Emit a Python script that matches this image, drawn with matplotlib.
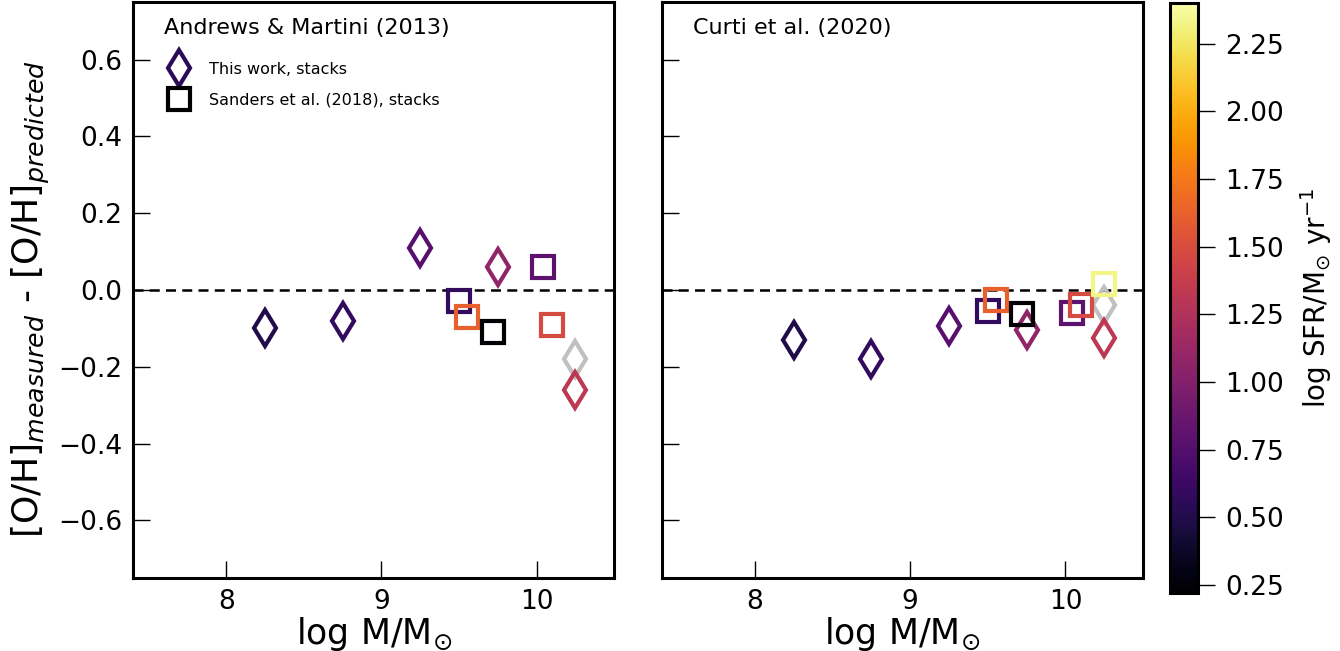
import matplotlib
matplotlib.use("Agg")
import matplotlib.pyplot as plt
import numpy as np
from matplotlib.colors import Normalize
from matplotlib.cm import ScalarMappable
from matplotlib.lines import Line2D

# ---- data ----
# This work, stacks (diamonds)
tw_mass = [8.25, 8.75, 9.25, 9.75, 10.25]
tw_sfr = [0.50, 0.58, 0.77, 1.08, 1.32]
tw_am13 = [-0.10, -0.08, 0.11, 0.06, -0.26]
tw_c20 = [-0.13, -0.18, -0.094, -0.105, -0.125]
# grey point (no SFR colour)
grey_mass = [10.25]
grey_am13 = [-0.18]
grey_c20 = [-0.04]

# Sanders et al. (2018), stacks (squares)
s18_mass = [9.50, 9.55, 9.72, 10.04, 10.10, 10.25]
s18_sfr = [0.58, 1.62, 0.24, 0.80, 1.48, 2.33]
s18_am13 = [-0.03, -0.07, -0.11, 0.06, -0.09, np.nan]
s18_c20 = [-0.055, -0.026, -0.063, -0.06, -0.039, 0.016]

xticks = [8, 9, 10]
yticks = [-0.6, -0.4, -0.2, 0.0, 0.2, 0.4, 0.6]
cbar_ticks = [0.25, 0.50, 0.75, 1.00, 1.25, 1.50, 1.75, 2.00, 2.25]

cmap = plt.get_cmap('inferno')
norm = Normalize(vmin=0.22, vmax=2.40)

fig = plt.figure(figsize=(13.4, 6.51), dpi=100)
ax1 = fig.add_axes([0.0993, 0.1121, 0.359, 0.885])
ax2 = fig.add_axes([0.494, 0.1121, 0.359, 0.885])
cax = fig.add_axes([0.873, 0.0891, 0.0209, 0.906])

D_MS = 18
D_MEW = 3.0
S_MS = 15.5
S_MEW = 3.0

panels = [(ax1, tw_am13, grey_am13, s18_am13, 'Andrews & Martini (2013)'),
          (ax2, tw_c20, grey_c20, s18_c20, 'Curti et al. (2020)')]

for ax, tw_y, grey_y, s_y, title in panels:
    ax.axhline(0.0, color='black', ls='--', lw=1.8, zorder=1, dashes=(4, 2.5))
    for x, y, c in zip(tw_mass, tw_y, tw_sfr):
        ax.plot([x], [y], marker='d', ls='none', ms=D_MS, mew=D_MEW,
                mfc='none', mec=cmap(norm(c)), zorder=3)
    for x, y in zip(grey_mass, grey_y):
        ax.plot([x], [y], marker='d', ls='none', ms=D_MS, mew=D_MEW,
                mfc='none', mec='#c0c0c0', zorder=2)
    for x, y, c in zip(s18_mass, s_y, s18_sfr):
        if np.isnan(y):
            continue
        ax.plot([x], [y], marker='s', ls='none', ms=S_MS, mew=S_MEW,
                mfc='none', mec=cmap(norm(c)), zorder=3)
    ax.set_xlim(7.4, 10.5)
    ax.set_ylim(-0.75, 0.75)
    ax.set_xticks(xticks)
    ax.set_yticks(yticks)
    ax.tick_params(direction='in', length=12, width=1, labelsize=19, pad=8)
    for sp in ax.spines.values():
        sp.set_linewidth(2.2)
    ax.set_xlabel(r'log M/M$_{\odot}$', fontsize=25, labelpad=0)
    ax.text(0.065, 0.955, title, transform=ax.transAxes, fontsize=16,
            ha='left', va='center')

ax1.set_yticklabels([f'{t:.1f}'.replace('-', '\u2212') for t in yticks])
ax2.set_yticklabels([])
ax1.set_ylabel(r'[O/H]$_{measured}$ - [O/H]$_{predicted}$', fontsize=26, labelpad=0)
ax1.yaxis.set_label_coords(-0.168, 0.485)

handles = [Line2D([], [], marker='d', ls='none', ms=D_MS, mew=D_MEW, mfc='none',
                  mec=cmap(norm(0.55))),
           Line2D([], [], marker='s', ls='none', ms=S_MS, mew=S_MEW, mfc='none',
                  mec='black')]
ax1.legend(handles, ['This work, stacks', 'Sanders et al. (2018), stacks'],
           loc='upper left', bbox_to_anchor=(0.055, 0.907), frameon=False,
           fontsize=11.5, handletextpad=1.1, labelspacing=1.0, borderaxespad=0,
           handlelength=1.6)

sm = ScalarMappable(norm=norm, cmap=cmap)
cb = fig.colorbar(sm, cax=cax)
cb.set_ticks(cbar_ticks)
cb.set_ticklabels([f'{t:.2f}' for t in cbar_ticks])
cb.ax.tick_params(labelsize=19, length=12, width=1, pad=8)
cb.outline.set_linewidth(2.2)
cb.set_label(r'log SFR/M$_{\odot}$ yr$^{-1}$', fontsize=20, labelpad=10)

fig.savefig('out.png', dpi=100)
